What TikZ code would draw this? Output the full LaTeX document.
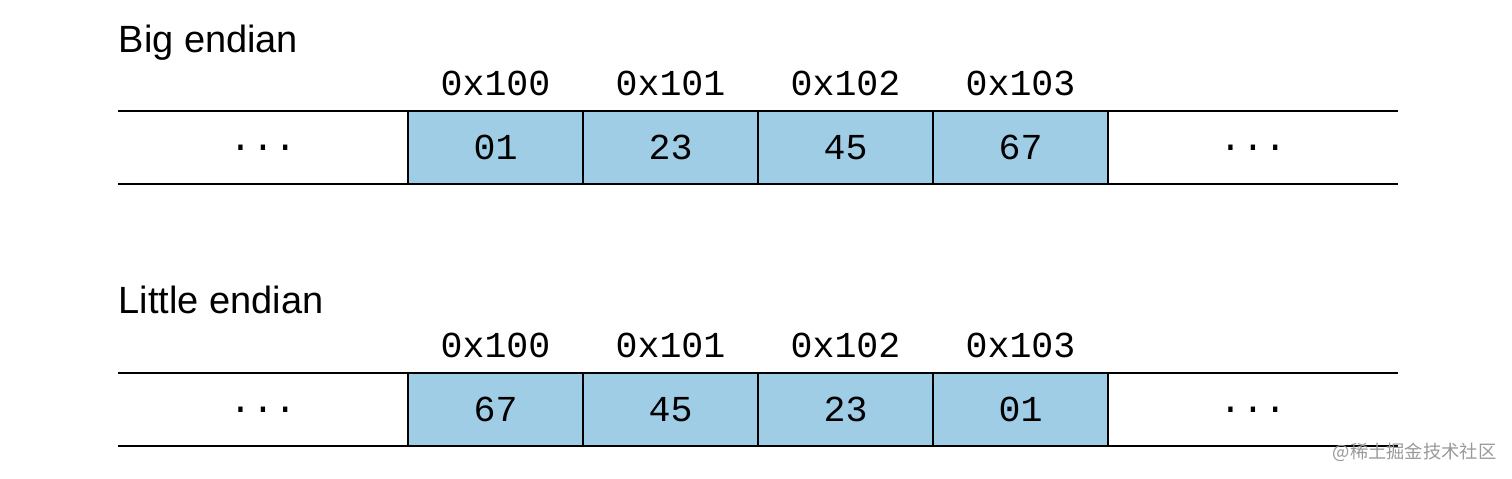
\documentclass[tikz,border=0pt]{standalone}
\usepackage{fontspec}
\setmainfont{Liberation Sans}
\setmonofont{Liberation Mono}
\newfontfamily\cjk{Noto Sans CJK SC}
\usetikzlibrary{positioning}
\definecolor{cellblue}{RGB}{160,205,230}

\begin{document}
\begin{tikzpicture}[
        node distance = 0pt,
        title/.style = {anchor=base west, inner sep=0pt, font=\fontsize{10.8}{12}\selectfont},
        cell/.style  = {rectangle, draw, fill=cellblue, line width=0.6pt, outer sep=0pt,
                        minimum width=1.75cm, minimum height=0.73cm, inner sep=0pt,
                        font=\ttfamily\fontsize{10.4}{12}\selectfont},
        dots/.style  = {rectangle, outer sep=0pt, minimum width=2.9cm, minimum height=0.73cm,
                        inner sep=0pt, font=\ttfamily\fontsize{10.6}{12}\selectfont},
        addr/.style  = {inner sep=0pt, font=\ttfamily\fontsize{10.4}{12}\selectfont},
        rule/.style  = {draw, line width=0.6pt}
    ]
        \useasboundingbox (0,0) rectangle (15.12,4.78);

        % Big endian
        \node [title] (bigtitle) at (1.18,4.26) {Big endian};
        \node [cell] (b1) at (4.955,3.305) {01};
        \node [cell, right=of b1] (b2) {23};
        \node [cell, right=of b2] (b3) {45};
        \node [cell, right=of b3] (b4) {67};
        \node [dots, left=of b1]  (bl) {...};
        \node [dots, right=of b4] (br) {...};
        \node [addr, above=0.14cm of b1] (ba1) {0x100};
        \node [addr, above=0.14cm of b2] (ba2) {0x101};
        \node [addr, above=0.14cm of b3] (ba3) {0x102};
        \node [addr, above=0.14cm of b4] (ba4) {0x103};
        \path [rule] (bl.north west) -- (br.north east);
        \path [rule] (bl.south west) -- (br.south east);

        % Little endian
        \node [title] (littitle) at (1.18,1.65) {Little endian};
        \node [cell] (l1) at (4.955,0.685) {67};
        \node [cell, right=of l1] (l2) {45};
        \node [cell, right=of l2] (l3) {23};
        \node [cell, right=of l3] (l4) {01};
        \node [dots, left=of l1]  (ll) {...};
        \node [dots, right=of l4] (lr) {...};
        \node [addr, above=0.14cm of l1] (la1) {0x100};
        \node [addr, above=0.14cm of l2] (la2) {0x101};
        \node [addr, above=0.14cm of l3] (la3) {0x102};
        \node [addr, above=0.14cm of l4] (la4) {0x103};
        \path [rule] (ll.north west) -- (lr.north east);
        \path [rule] (ll.south west) -- (lr.south east);

        % 透かし
        \node [anchor=east, inner sep=0pt, text=black!40, font=\cjk\fontsize{5.2}{6}\selectfont]
            (mark) at (14.97,0.26) {@稀土掘金技术社区};
    \end{tikzpicture}
\end{document}
